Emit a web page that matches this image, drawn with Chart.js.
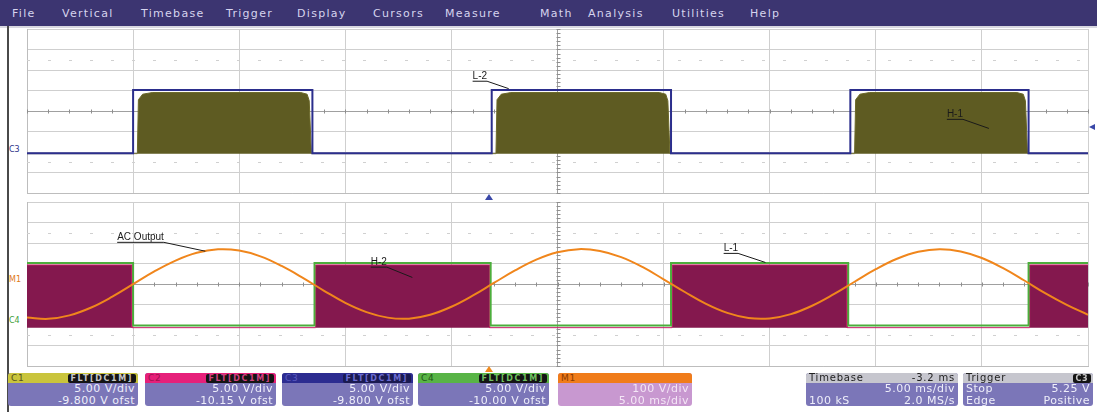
<!DOCTYPE html>
<html>
  <head>
    <title>Scope capture</title>
    <script src="https://cdn.jsdelivr.net/npm/chart.js"></script>
    <style>
      body {
        margin: 0;
        width: 1097px;
        height: 412px;
        position: relative;
        overflow: hidden;
        background: #fff;
        font-family: "DejaVu Sans", Arial, sans-serif;
      }
      .menu {
        position: absolute;
        left: 0; top: 0;
        width: 1097px; height: 26px;
        background: #3c3571;
        color: #d6d4ee;
        font-size: 11px;
        letter-spacing: 1.3px;
      }
      .menu span { position: absolute; top: 7px; }
      .strip { position: absolute; left: 0; top: 26px; width: 1097px; height: 2px; background: #d8d8e0; }
      .frame { position: absolute; left: 7px; top: 26px; width: 2px; height: 386px; background: #4a4a4a; }
      .panel { position: absolute; left: 26px; }
      .mark { position: absolute; font-size: 8px; }
      .tri {
        position: absolute; width: 0; height: 0;
        border-left: 4px solid transparent; border-right: 4px solid transparent;
      }
      .box {
        position: absolute; top: 373px; height: 33px;
        border-radius: 3px; overflow: hidden;
        background: #7b76b8;
      }
      .box .hd {
        position: relative; height: 10px;
        font-size: 9px; line-height: 10px; padding: 0 3px;
        letter-spacing: 0.8px;
      }
      .box .tag {
        position: absolute; right: 2px; top: 1px;
        height: 9px; line-height: 9px; padding: 0 3px;
        background: #141414; color: #c8c8c8;
        font-size: 8px; font-weight: bold; border-radius: 2px;
        letter-spacing: 1.6px;
      }
      .box .bd {
        color: #eeeefa; font-size: 11px; line-height: 11.5px;
        text-align: right; padding: 0 3px; letter-spacing: 0.5px;
      }
      .row { display: flex; justify-content: space-between; }
    </style>
  </head>
  <body>
    <div class="menu">
      <span style="left:12px">File</span>
      <span style="left:62px">Vertical</span>
      <span style="left:141px">Timebase</span>
      <span style="left:226px">Trigger</span>
      <span style="left:297px">Display</span>
      <span style="left:373px">Cursors</span>
      <span style="left:445px">Measure</span>
      <span style="left:540px">Math</span>
      <span style="left:588px">Analysis</span>
      <span style="left:672px">Utilities</span>
      <span style="left:750px">Help</span>
    </div>
    <div class="strip"></div>
    <div class="frame"></div>

    <canvas id="topScope" class="panel" style="top:28px" width="1063" height="166"></canvas>
    <canvas id="bottomScope" class="panel" style="top:201px" width="1063" height="166"></canvas>

    <div class="mark" style="left:9px;top:145px;color:#2c3088">C3</div>
    <div class="mark" style="left:9px;top:275px;color:#e07a18">M1</div>
    <div class="mark" style="left:9px;top:316px;color:#3fa03a">C4</div>
    <div style="position:absolute;left:1089px;top:124px;width:0;height:0;border-top:3px solid transparent;border-bottom:3px solid transparent;border-right:6px solid #3a48a8"></div>
    <div class="tri" style="left:485px;top:194px;border-bottom:6px solid #3a48a8"></div>
    <div class="tri" style="left:485px;top:366px;border-bottom:6px solid #f08a1e"></div>

    <div class="box" style="left:8px;width:130px">
      <div class="hd" style="background:#c9c43c;color:#55521c">C1<span class="tag">FLT[DC1M]</span></div>
      <div class="bd"><div>5.00 V/div</div><div>-9.800 V ofst</div></div>
    </div>
    <div class="box" style="left:145px;width:131px">
      <div class="hd" style="background:#e6207a;color:#a01050">C2<span class="tag" style="color:#d04080">FLT[DC1M]</span></div>
      <div class="bd"><div>5.00 V/div</div><div>-10.15 V ofst</div></div>
    </div>
    <div class="box" style="left:282px;width:131px">
      <div class="hd" style="background:#2c2c90;color:#5a5ac0">C3<span class="tag" style="background:#1a1a50;color:#6a6ad0">FLT[DC1M]</span></div>
      <div class="bd"><div>5.00 V/div</div><div>-9.800 V ofst</div></div>
    </div>
    <div class="box" style="left:418px;width:131px">
      <div class="hd" style="background:#58b446;color:#205818">C4<span class="tag" style="color:#70c060">FLT[DC1M]</span></div>
      <div class="bd"><div>5.00 V/div</div><div>-10.00 V ofst</div></div>
    </div>
    <div class="box" style="left:558px;width:134px;background:#c898d0">
      <div class="hd" style="background:#f07c1a;color:#8a3a00">M1</div>
      <div class="bd" style="color:#f4e6f6"><div>100 V/div</div><div>5.00 ms/div</div></div>
    </div>
    <div class="box" style="left:806px;width:152px">
      <div class="hd" style="background:#c6c6ce;color:#222;font-size:10px">Timebase<span style="position:absolute;right:3px">-3.2 ms</span></div>
      <div class="bd"><div>5.00 ms/div</div><div class="row"><span>100 kS</span><span>2.0 MS/s</span></div></div>
    </div>
    <div class="box" style="left:963px;width:130px">
      <div class="hd" style="background:#c6c6ce;color:#222;font-size:10px">Trigger<span class="tag" style="letter-spacing:0.5px">C3</span></div>
      <div class="bd"><div class="row"><span>Stop</span><span>5.25 V</span></div><div class="row"><span>Edge</span><span>Positive</span></div></div>
    </div>

    <script>
      // all traces in screen divisions (8 vertical divs, centre = 0), time in ms (5 ms/div)

      // C3 gate signal (blue) - top panel
      const c3Time  = [0, 5.0, 5.0, 13.45, 13.45, 21.9, 21.9, 30.35, 30.35, 38.8, 38.8, 47.2, 47.2, 50];
      const c3Level = [-2.06, -2.06, 1.03, 1.03, -2.06, -2.06, 1.03, 1.03, -2.06, -2.06, 1.03, 1.03, -2.06, -2.06];

      // C1 switching node (olive) - upper envelope of the PWM burst
      const c1Time = [0, 5.2, 5.25, 5.45, 5.9, 12.9, 13.2, 13.3, 13.4,
                      22.1, 22.15, 22.35, 22.8, 29.8, 30.1, 30.2, 30.3,
                      39.0, 39.05, 39.25, 39.7, 46.65, 46.95, 47.05, 47.15, 50];
      const c1Top  = [-2.08, -2.08, 0.55, 0.82, 0.9, 0.9, 0.82, 0.5, -2.08,
                      -2.08, 0.55, 0.82, 0.9, 0.9, 0.82, 0.5, -2.08,
                      -2.08, 0.55, 0.82, 0.9, 0.9, 0.82, 0.5, -2.08, -2.08];

      // C4 gate signal (green) - bottom panel
      const c4Time  = [0, 5.0, 5.0, 13.55, 13.55, 21.85, 21.85, 30.35, 30.35, 38.7, 38.7, 47.2, 47.2, 50];
      const c4Level = [1.02, 1.02, -2.03, -2.03, 1.02, 1.02, -2.03, -2.03, 1.02, 1.02, -2.03, -2.03, 1.02, 1.02];

      // C2 switching node (maroon) - upper envelope
      const c2Time = [0, 4.95, 4.95, 13.6, 13.6, 21.8, 21.8, 30.4, 30.4, 38.65, 38.65, 47.25, 47.25, 50];
      const c2Top  = [0.93, 0.93, -2.13, -2.13, 0.93, 0.93, -2.13, -2.13, 0.93, 0.93, -2.13, -2.13, 0.93, 0.93];

      // M1 AC output (orange), sampled every 1 ms
      const m1Time = [0, 1, 2, 3, 4, 5, 6, 7, 8, 9, 10, 11, 12, 13, 14, 15, 16, 17, 18, 19, 20,
                      21, 22, 23, 24, 25, 26, 27, 28, 29, 30, 31, 32, 33, 34, 35, 36, 37, 38, 39, 40,
                      41, 42, 43, 44, 45, 46, 47, 48, 49, 50];
      const m1Div  = [-1.63, -1.70, -1.53, -1.16, -0.63, -0.01, 0.61, 1.14, 1.52, 1.69, 1.63,
                      1.35, 0.88, 0.30, -0.33, -0.92, -1.37, -1.64, -1.69, -1.50, -1.11,
                      -0.57, 0.05, 0.66, 1.19, 1.55, 1.70, 1.61, 1.31, 0.83, 0.23,
                      -0.39, -0.97, -1.41, -1.66, -1.68, -1.47, -1.06, -0.51, 0.11, 0.72,
                      1.23, 1.57, 1.70, 1.59, 1.27, 0.77, 0.17, -0.46, -1.02, -1.50];

      const pts = (xs, ys) => xs.map((x, i) => ({ x: x, y: ys[i] }));

      // minor ticks on the centre cross and dotted rows at +/-2.5 div
      const scopeGrid = {
        id: 'scopeGrid',
        beforeDatasetsDraw(chart) {
          const { ctx, chartArea: a, scales: { x, y } } = chart;
          const cy = Math.round(y.getPixelForValue(0)) + 0.5;
          const cx = Math.round(x.getPixelForValue(25)) + 0.5;
          ctx.save();
          ctx.strokeStyle = '#8e8e8e';
          ctx.lineWidth = 1;
          ctx.beginPath();
          for (let t = 0; t <= 50; t += 1) {
            const px = Math.round(x.getPixelForValue(t)) + 0.5;
            ctx.moveTo(px, cy - 2); ctx.lineTo(px, cy + 2);
          }
          for (let v = -4; v <= 4.001; v += 0.2) {
            const py = Math.round(y.getPixelForValue(v)) + 0.5;
            ctx.moveTo(cx - 2, py); ctx.lineTo(cx + 2, py);
          }
          ctx.stroke();
          ctx.strokeStyle = '#d0d0d0';
          ctx.setLineDash([3, 18]);
          ctx.beginPath();
          [2.5, -2.5].forEach(v => {
            const py = Math.round(y.getPixelForValue(v)) + 0.5;
            ctx.moveTo(a.left, py); ctx.lineTo(a.right, py);
          });
          ctx.stroke();
          ctx.restore();
        }
      };

      // underlined trace labels with leader lines
      const scopeNotes = {
        id: 'scopeNotes',
        afterDatasetsDraw(chart, args, opts) {
          const { ctx, scales: { x, y } } = chart;
          ctx.save();
          ctx.font = '10px "Liberation Sans", Arial, sans-serif';
          ctx.fillStyle = '#1a1a1a';
          ctx.strokeStyle = '#1a1a1a';
          ctx.lineWidth = 1;
          opts.notes.forEach(n => {
            const px = x.getPixelForValue(n.at[0]);
            const py = y.getPixelForValue(n.at[1]);
            const w = ctx.measureText(n.text).width;
            ctx.fillText(n.text, px, py);
            ctx.beginPath();
            ctx.moveTo(px, py + 2);
            ctx.lineTo(px + w, py + 2);
            ctx.lineTo(x.getPixelForValue(n.to[0]), y.getPixelForValue(n.to[1]));
            ctx.stroke();
          });
          ctx.restore();
        }
      };

      function scopeOptions(notes) {
        const gridColor = (centre) => (c) => c.tick.value === centre ? '#a0a0a0' : '#cfcfcf';
        return {
          responsive: false,
          animation: false,
          events: [],
          layout: { padding: 1 },
          elements: { point: { radius: 0 } },
          plugins: {
            legend: { display: false },
            tooltip: { enabled: false },
            scopeNotes: { notes: notes }
          },
          scales: {
            x: {
              type: 'linear', min: 0, max: 50,
              ticks: { display: false, stepSize: 5 },
              grid: { color: gridColor(25), drawTicks: false },
              border: { color: '#bdbdbd' }
            },
            y: {
              min: -4, max: 4,
              ticks: { display: false, stepSize: 1 },
              grid: { color: gridColor(0), drawTicks: false },
              border: { color: '#bdbdbd' }
            }
          }
        };
      }

      new Chart(document.getElementById('topScope'), {
        type: 'line',
        data: {
          datasets: [
            {
              label: 'C3',
              data: pts(c3Time, c3Level),
              borderColor: '#2b2e8c',
              borderWidth: 2,
              order: 0
            },
            {
              label: 'C1',
              data: pts(c1Time, c1Top),
              borderColor: '#6b6828',
              backgroundColor: '#5e5b22',
              borderWidth: 1,
              fill: { value: -2.08 },
              order: 1
            }
          ]
        },
        options: scopeOptions([
          { text: 'L-2', at: [21.0, 1.55], to: [22.7, 1.09] },
          { text: 'H-1', at: [43.35, -0.31], to: [45.33, -0.85] }
        ]),
        plugins: [scopeGrid, scopeNotes]
      });

      new Chart(document.getElementById('bottomScope'), {
        type: 'line',
        data: {
          datasets: [
            {
              label: 'M1',
              data: pts(m1Time, m1Div),
              borderColor: '#f0861c',
              borderWidth: 2,
              tension: 0.4,
              order: 0
            },
            {
              label: 'C4',
              data: pts(c4Time, c4Level),
              borderColor: '#4cae3c',
              borderWidth: 2,
              order: 1
            },
            {
              label: 'C2',
              data: pts(c2Time, c2Top),
              borderColor: '#c81c68',
              backgroundColor: '#84184e',
              borderWidth: 1,
              fill: { value: -2.13 },
              order: 2
            }
          ]
        },
        options: scopeOptions([
          { text: 'AC Output', at: [4.25, 2.13], to: [8.4, 1.6] },
          { text: 'H-2', at: [16.2, 0.92], to: [18.16, 0.32] },
          { text: 'L-1', at: [32.83, 1.59], to: [34.8, 1.05] }
        ]),
        plugins: [scopeGrid, scopeNotes]
      });
    </script>
  </body>
</html>
